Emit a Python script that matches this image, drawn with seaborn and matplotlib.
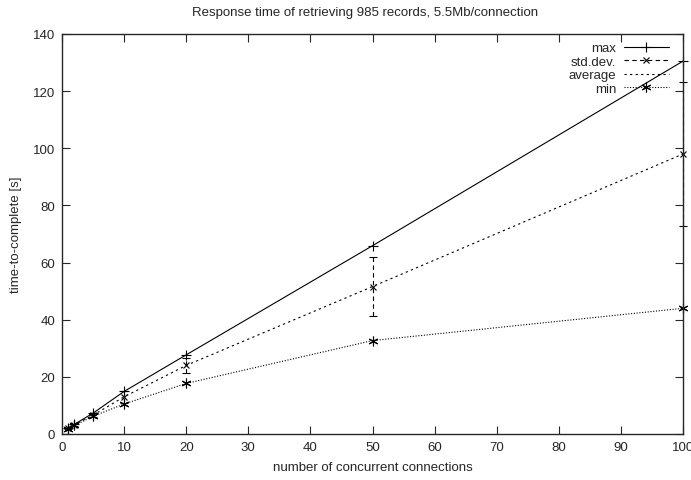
import matplotlib
matplotlib.use("Agg")
import matplotlib.pyplot as plt
import seaborn as sns
import pandas as pd
from matplotlib.lines import Line2D

connections = [1, 2, 5, 10, 20, 50, 100]
max_time = [2.1, 3.4, 7.3, 14.9, 27.7, 65.9, 130.5]
avg_time = [2.0, 3.2, 6.6, 13.0, 24.0, 51.6, 98.0]
std_dev = [0.2, 0.3, 0.7, 2.0, 2.5, 10.2, 25.2]
min_time = [1.8, 3.0, 6.2, 10.5, 17.7, 32.7, 44.0]

x_ticks = list(range(0, 101, 10))
y_ticks = list(range(0, 141, 20))

sns.set_style("ticks")
plt.rcParams['font.family'] = ['Liberation Sans', 'DejaVu Sans']
FS = 9.5
plt.rcParams['font.size'] = FS

df = pd.DataFrame({"x": connections, "max": max_time, "avg": avg_time,
                   "sd": std_dev, "min": min_time})

fig = plt.figure(figsize=(6.91, 4.81), dpi=100)
ax = fig.add_axes([62/691, 1-435/481, (683-62)/691, 400/481])

lw = 0.8
asterisk = (6, 2, 0)
dash_sd = (0, (4, 3))
dot_avg = (0, (2, 3))
dot_min = (0, (1, 1.5))

sns.lineplot(data=df, x="x", y="max", ax=ax, color="black", lw=lw, clip_on=False)
ax.plot(df["x"], df["max"], linestyle="none", marker="+", color="black",
        markersize=7, markeredgewidth=lw, clip_on=False)

eb = ax.errorbar(df["x"], df["avg"], yerr=df["sd"], fmt="none", ecolor="black",
                 elinewidth=lw, capsize=3, capthick=lw, clip_on=False)
eb[2][0].set_linestyle(dash_sd)
ax.plot(df["x"], df["avg"], linestyle="none", marker="x", color="black",
        markersize=5, markeredgewidth=lw, clip_on=False)

sns.lineplot(data=df, x="x", y="avg", ax=ax, color="black", lw=lw,
             linestyle=dot_avg, clip_on=False)

sns.lineplot(data=df, x="x", y="min", ax=ax, color="black", lw=lw,
             linestyle=dot_min, clip_on=False)
ax.plot(df["x"], df["min"], linestyle="none", marker=asterisk, color="black",
        markersize=7, markeredgewidth=lw, clip_on=False)

ax.set_xlim(0, 100)
ax.set_ylim(0, 140)
ax.set_xticks(x_ticks)
ax.set_yticks(y_ticks)
ax.tick_params(direction="in", length=6, width=lw, top=True, right=True,
               labelsize=FS, pad=5)
for s in ax.spines.values():
    s.set_linewidth(1.0)
    s.set_visible(True)

ax.set_title("Response time of retrieving 985 records, 5.5Mb/connection",
             fontsize=FS, pad=14, x=(365.5 - 62) / 621)
ax.set_xlabel("number of concurrent connections", fontsize=FS, labelpad=6)
ax.set_ylabel("time-to-complete [s]", fontsize=FS, labelpad=8)

handles = [
    Line2D([], [], color="black", lw=lw, marker="+", markersize=7, markeredgewidth=lw),
    Line2D([], [], color="black", lw=lw, linestyle=dash_sd, marker="x",
           markersize=5, markeredgewidth=lw),
    Line2D([], [], color="black", lw=lw, linestyle=dot_avg),
    Line2D([], [], color="black", lw=lw, linestyle=dot_min, marker=asterisk,
           markersize=7, markeredgewidth=lw),
]
labels = ["max", "std.dev.", "average", "min"]
ax.legend(handles, labels, loc="upper right", frameon=False, markerfirst=False,
          handlelength=3.4, handletextpad=0.6, labelspacing=0.1,
          borderaxespad=0.2, bbox_to_anchor=(0.99, 1.0), fontsize=FS)

fig.savefig("out.png", dpi=100)
